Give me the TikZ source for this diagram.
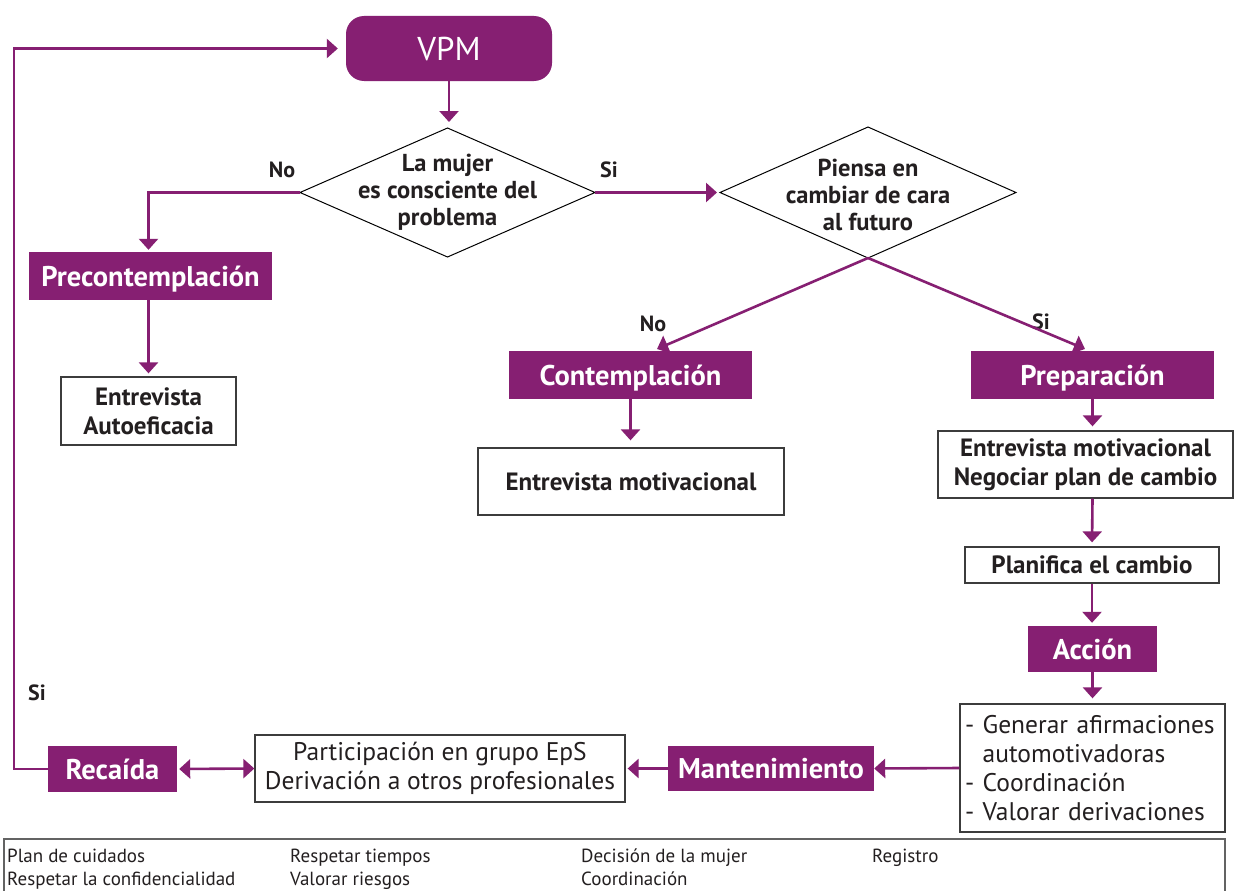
\documentclass[tikz,border=0pt]{standalone}
\usepackage{fontspec}
\setmainfont{PT Sans}
\usetikzlibrary{arrows.meta,calc}
\definecolor{vp}{RGB}{134,31,114}
\definecolor{ink}{RGB}{35,31,32}
\definecolor{edge}{RGB}{60,60,60}
\begin{document}
\begin{tikzpicture}[x=1pt,y=-1pt,
 tip/.style={-{Triangle[width=19pt,length=11pt]}},
 conn/.style={draw=vp, line width=2.6pt, tip},
 conn2/.style={draw=vp, line width=2.6pt, {Triangle[width=19pt,length=11pt]}-{Triangle[width=19pt,length=11pt]}},
 pbox/.style={fill=vp, text=white, inner sep=0pt, text height=20pt, text depth=0pt, font=\bfseries\fontsize{28.5}{32}\selectfont},
 wbox/.style={draw=edge, line width=1.3pt, fill=white, text=ink, inner sep=0pt, align=center},
 semi/.style={font=\bfseries\fontsize{25}{29}\selectfont},
 reg/.style={font=\fontsize{25.5}{29}\selectfont},
 lab/.style={text=ink, font=\bfseries\fontsize{22}{26}\selectfont},
 dtext/.style={text=ink, align=center, font=\bfseries\fontsize{24.5}{27}\selectfont},
 foot/.style={text=ink, anchor=base west, inner sep=0pt, font=\fontsize{19}{22}\selectfont},
 dia/.style={draw=black, line width=1pt}
]
\useasboundingbox (0,0) rectangle (1234,891);
\clip (0,0) rectangle (1234,891);
\fill[white] (0,0) rectangle (1234,891);

% start
\node[fill=vp, text=white, rounded corners=18pt, inner sep=0pt, minimum width=206pt, minimum height=65pt, text height=23pt, text depth=0pt, font=\fontsize{33}{36}\selectfont] (vpm) at (449,48.5) {VPM};

% diamond 1
\coordinate (d1n) at (447.5,128);
\coordinate (d1e) at (595,192.5);
\coordinate (d1s) at (447.5,257);
\coordinate (d1w) at (300,192.5);
\draw[dia] (d1n) -- (d1e) -- (d1s) -- (d1w) -- cycle;
\node[dtext] (d1t) at (447.5,192) {La mujer\\es consciente del\\problema};

% diamond 2
\coordinate (d2n) at (868,127);
\coordinate (d2e) at (1016,192.5);
\coordinate (d2s) at (868,258);
\coordinate (d2w) at (720,192.5);
\draw[dia] (d2n) -- (d2e) -- (d2s) -- (d2w) -- cycle;
\node[dtext] (d2t) at (868,195) {Piensa en\\cambiar de cara\\al futuro};

% stage boxes
\node[pbox, minimum width=243pt, minimum height=48pt] (pre) at (150.5,276) {Precontemplación};
\node[wbox, semi, minimum width=175pt, minimum height=68pt] (auto) at (148.5,411) {Entrevista\\Autoeficacia};
\node[pbox, minimum width=243pt, minimum height=48pt] (cont) at (630.5,375) {Contemplación};
\node[wbox, semi, minimum width=306pt, minimum height=67pt] (em1) at (631,481.5) {Entrevista motivacional};
\node[pbox, minimum width=243pt, minimum height=48pt] (prep) at (1092.5,375) {Preparación};
\node[wbox, semi, minimum width=295pt, minimum height=67pt] (em2) at (1085.5,464.5) {Entrevista motivacional\\Negociar plan de cambio};
\node[wbox, semi, minimum width=254pt, minimum height=36pt] (plan) at (1092,565) {Planifica el cambio};
\node[pbox, minimum width=129pt, minimum height=46pt] (acc) at (1092.5,649) {Acción};
\node[wbox, reg, align=left, text width=255pt, inner sep=5pt, minimum height=128pt] (list) at (1092.5,768) {- Generar afirmaciones\\\phantom{- }automotivadoras\\- Coordinación\\- Valorar derivaciones};
\node[pbox, minimum width=206pt, minimum height=45pt] (mant) at (771,768.5) {Mantenimiento};
\node[wbox, reg, minimum width=370pt, minimum height=67pt] (part) at (440,768.5) {Participación en grupo EpS\\Derivación a otros profesionales};
\node[pbox, minimum width=129pt, minimum height=46pt] (rec) at (112.5,769) {Recaída};

% labels
\node[lab] (no1) at (282,170) {No};
\node[lab] (si1) at (609,170) {Si};
\node[lab] (no2) at (653,324) {No};
\node[lab] (si2) at (1041,322) {Si};
\node[lab] (si3) at (37,693) {Si};

% connectors
\draw[conn, shorten >=6pt] (vpm.south) -- (vpm.south |- d1n);
\draw[conn, shorten >=2pt] (d1w) -| ([xshift=-2pt]pre.north);
\draw[conn, shorten >=3pt] (d1e) -- (d2w);
\draw[conn, shorten >=3pt] ([xshift=-2pt]pre.south) -- (auto.north);
\coordinate (cin) at (657,349);
\coordinate (pin) at (1085,349);
\draw[conn] (d2s) -- (cin);
\draw[conn] (d2s) -- (pin);
\draw[conn, shorten >=7pt] (cont.south) -- (cont.south |- em1.north);
\draw[conn, shorten >=4pt] (prep.south) -- (prep.south |- em2.north);
\draw[conn, shorten >=4pt] (prep.south |- em2.south) -- (plan.north);
\draw[conn, shorten >=3pt] (plan.south) -- (plan.south |- acc.north);
\draw[conn, shorten >=5pt] (acc.south) -- (acc.south |- list.north);
\draw[conn] (list.west) -- (mant.east);
\draw[conn, shorten >=2pt] (mant.west) -- (part.east);
\draw[conn2, shorten <=2pt] (rec.east) -- (part.west);
\draw[conn, shorten >=8pt] (rec.west) -- ++(-34,0) |- (vpm.west);

% footer
\draw[draw=edge!80, line width=1.4pt] (4,839) rectangle (1225,905);
\node[foot] (f11) at (7,862) {Plan de cuidados};
\node[foot] (f12) at (7,885) {Respetar la confidencialidad};
\node[foot] (f21) at (290,862) {Respetar tiempos};
\node[foot] (f22) at (290,885) {Valorar riesgos};
\node[foot] (f31) at (581,862) {Decisión de la mujer};
\node[foot] (f32) at (581,885) {Coordinación};
\node[foot] (f41) at (872,862) {Registro};
\end{tikzpicture}
\end{document}
